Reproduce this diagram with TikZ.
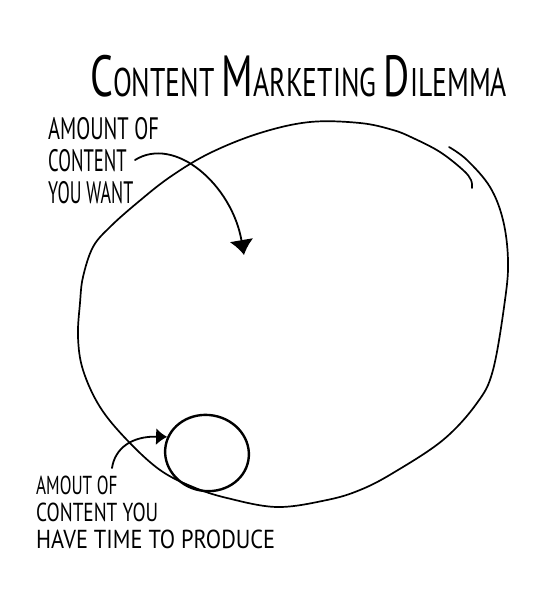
\documentclass[tikz,border=0pt]{standalone}
\usepackage{fontspec}
\setmainfont{PT Sans}
\usetikzlibrary{arrows,arrows.meta,shapes,positioning}
\tikzset{
    outline/.style = {draw, line width=1.7pt, line cap=round, line join=round},
    bubble/.style = {draw, ellipse, line width=2.4pt,
        minimum width=84pt, minimum height=76pt, inner sep=0pt},
    pointer/.style = {draw, line width=1.8pt, line cap=round, -{Latex[length=15pt,width=24pt]}},
    smallpointer/.style = {draw, line width=1.8pt, line cap=round, -{Latex[length=11pt,width=17pt]}},
    heading/.style = {anchor=base west, inner sep=0pt, font=\fontsize{40}{40}\selectfont},
    note/.style = {align=left, anchor=north west, inner sep=0pt}
}
\newcommand{\hand}[2][0.66]{\scalebox{#1}[1]{#2}}
\newcommand{\initialletter}[1]{{\fontsize{58}{58}\selectfont #1}}

\begin{document}
\begin{tikzpicture}[x=1pt, y=-1pt]
        \useasboundingbox (0,0) rectangle (557,600);

        \node [heading, name=title] at (90,96) {\hand[0.69]{\initialletter{C}ONTENT \initialletter{M}ARKETING \initialletter{D}ILEMMA}};

        \draw [outline] plot [smooth, tension=0.6] coordinates {
            (449,147) (467,160) (490,187) (503,220) (508,260) (505,300) (493,370)
            (477,403) (443,440) (393,473) (360,490) (327,500) (277,507) (227,498)
            (193,487) (160,470) (127,440) (100,407) (83,370) (78,337) (80,303)
            (83,277) (93,247) (110,227) (137,203) (170,177) (210,153) (260,133)
            (310,122) (360,123) (393,130) (413,138) (440,152) (463,170) (471,180) (472,188)};

        \node [bubble, rotate=-10, name=small] at (207,453) {};

        \node [note, font=\fontsize{31}{32}\selectfont, name=want] at (48,117)
            {\hand{AMOUNT OF}\\ \hand[0.6]{CONTENT}\\ \hand[0.58]{YOU WANT}};
        \node [note, font=\fontsize{26}{27}\selectfont, name=produce] at (36,476)
            {\hand{AMOUT OF}\\ \hand[0.74]{CONTENT YOU}\\ \hand[0.86]{HAVE TIME TO PRODUCE}};

        \coordinate (wantfrom) at (135,160);
        \coordinate (wantto) at (244,255);
        \coordinate (producefrom) at (112,468);

        \draw [pointer] (wantfrom) .. controls (175,135) and (232,185) .. (wantto);
        \draw [smallpointer] (producefrom) .. controls (115,448) and (132,436) .. (small.168);
    \end{tikzpicture}
\end{document}
